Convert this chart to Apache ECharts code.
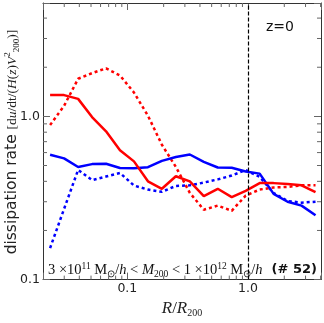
<!DOCTYPE html>
<html>
<head>
<meta charset="utf-8">
<script src="https://cdn.jsdelivr.net/npm/echarts@6/dist/echarts.min.js"></script>
<style>
  html, body { margin: 0; padding: 0; background: #fff; }
  #chart { width: 324px; height: 323px; }
</style>
</head>
<body>
<div id="chart"></div>
<script>
// R/R200 bins
const radius = [0.0229, 0.0299, 0.0391, 0.0510, 0.0666, 0.0869, 0.1135, 0.1482, 0.1934, 0.2525,
                0.3296, 0.4303, 0.5617, 0.7333, 0.9573, 1.250, 1.632, 2.130, 2.780, 3.630]
const redSolid   = [1.35, 1.35, 1.28, 0.99, 0.81, 0.62, 0.53, 0.40, 0.36, 0.43,
                    0.40, 0.325, 0.36, 0.32, 0.35, 0.39, 0.39, 0.385, 0.378, 0.343]
const redDotted  = [0.885, 1.16, 1.70, 1.84, 1.97, 1.78, 1.40, 1.01, 0.67, 0.49,
                    0.34, 0.268, 0.284, 0.264, 0.327, 0.356, 0.367, 0.37, 0.378, 0.378]
const blueSolid  = [0.582, 0.553, 0.49, 0.51, 0.513, 0.483, 0.481, 0.488, 0.534, 0.564,
                    0.584, 0.527, 0.486, 0.485, 0.46, 0.446, 0.335, 0.30, 0.284, 0.248]
const blueDotted = [0.156, 0.271, 0.47, 0.407, 0.428, 0.45, 0.377, 0.356, 0.345, 0.375,
                    0.378, 0.393, 0.411, 0.434, 0.469, 0.426, 0.339, 0.303, 0.296, 0.30]
const xMinor = [0.03, 0.04, 0.05, 0.06, 0.07, 0.08, 0.09, 0.2, 0.3, 0.4, 0.5, 0.6, 0.7, 0.8, 0.9, 2, 3, 4]
const yMinor = [0.2, 0.3, 0.4, 0.5, 0.6, 0.7, 0.8, 0.9, 2, 3, 4]

const xMin = 0.02, xMax = 4.03
const yMin = 0.1, yMax = 4.95

let myChart = echarts.init(document.getElementById('chart'))

function pairs(ys){
	return radius.map((r, i) => [r, ys[i]])
}

function decadeLabel(v){
	let l = Math.log10(v)
	if (Math.abs(l - Math.round(l)) > 1e-6) return ''
	return v < 1 ? String(+v.toFixed(3)) : v.toFixed(1)
}

let tickColor = '#666'

function minorTicksX(params, api){
	let p = api.coord([api.value(0), 1])
	let cs = params.coordSys
	let b = cs.y + cs.height
	return {
		type: 'group',
		children: [
			{type: 'line', shape: {x1: p[0], y1: b, x2: p[0], y2: b - 4}, style: {stroke: tickColor, lineWidth: 1}},
			{type: 'line', shape: {x1: p[0], y1: cs.y, x2: p[0], y2: cs.y + 4}, style: {stroke: tickColor, lineWidth: 1}}
		]
	}
}

function minorTicksY(params, api){
	let p = api.coord([1, api.value(1)])
	let cs = params.coordSys
	let r = cs.x + cs.width
	return {
		type: 'group',
		children: [
			{type: 'line', shape: {x1: cs.x, y1: p[1], x2: cs.x + 4, y2: p[1]}, style: {stroke: tickColor, lineWidth: 1}},
			{type: 'line', shape: {x1: r, y1: p[1], x2: r - 4, y2: p[1]}, style: {stroke: tickColor, lineWidth: 1}}
		]
	}
}

let frameLine = {show: true, onZero: false, lineStyle: {color: '#333', width: 1}}
let majorTick = {show: true, inside: true, length: 7, lineStyle: {color: tickColor, width: 1}}

let serif = 'Liberation Serif'
let sans = 'DejaVu Sans'

let option = {
	animation: false,
	backgroundColor: '#fff',
	grid: {left: 43, right: 3, top: 3, bottom: 32, containLabel: false},
	xAxis: [
		{
			type: 'log', min: xMin, max: xMax, logBase: 10,
			axisLine: frameLine, axisTick: majorTick, splitLine: {show: false},
			axisLabel: {formatter: decadeLabel, fontFamily: sans, fontSize: 12.5, color: '#222', margin: 3},
			name: '{i|R}{n|/}{i|R}{s|200}',
			nameLocation: 'middle', nameGap: 12,
			nameTextStyle: {
				verticalAlign: 'top',
				rich: {
					i: {fontFamily: serif, fontStyle: 'italic', fontSize: 17, color: '#222', lineHeight: 18},
					n: {fontFamily: serif, fontSize: 17, color: '#222', lineHeight: 18},
					s: {fontFamily: serif, fontSize: 10, color: '#222', verticalAlign: 'bottom', lineHeight: 11}
				}
			}
		},
		{
			type: 'log', min: xMin, max: xMax, position: 'top',
			axisLine: frameLine, axisTick: majorTick, axisLabel: {show: false}, splitLine: {show: false}
		}
	],
	yAxis: [
		{
			type: 'log', min: yMin, max: yMax,
			axisLine: frameLine, axisTick: majorTick, splitLine: {show: false},
			axisLabel: {formatter: decadeLabel, fontFamily: sans, fontSize: 12.5, color: '#222', margin: 3}
		},
		{
			type: 'log', min: yMin, max: yMax, position: 'right',
			axisLine: frameLine, axisTick: majorTick, axisLabel: {show: false}, splitLine: {show: false}
		}
	],
	graphic: [
		{
			type: 'text', x: 12, y: 142, rotation: Math.PI / 2,
			style: {
				text: '{a|dissipation rate }{m|[d}{i|u}{m|/dt/(}{i|H}{m|(}{i|z}{m|)}{i|V}{p|2}{s|200}{m|)]}',
				align: 'center', verticalAlign: 'middle',
				rich: {
					a: {fontFamily: sans, fontSize: 15.5, fill: '#222', lineHeight: 18},
					m: {fontFamily: serif, fontSize: 13.5, fill: '#222', lineHeight: 18},
					i: {fontFamily: serif, fontStyle: 'italic', fontSize: 13.5, fill: '#222', lineHeight: 18},
					p: {fontFamily: serif, fontSize: 9, fill: '#222', verticalAlign: 'top', lineHeight: 10},
					s: {fontFamily: serif, fontSize: 9, fill: '#222', verticalAlign: 'bottom', lineHeight: 10}
				}
			}
		},
		{
			type: 'text', x: 266, y: 27,
			style: {text: 'z=0', fontFamily: sans, fontSize: 14, fill: '#111', verticalAlign: 'middle'}
		},
		{
			type: 'text', x: 48, y: 270,
			style: {
				text: '{m|3 ×10}{p|11}{m| M}{s|⊙}{m|/}{i|h}{m| < }{i|M}{s|200}{m| < 1 ×10}{p|12}{m| M}{s|⊙}{m|/}{i|h}{b|  (# 52)}',
				verticalAlign: 'middle',
				rich: {
					m: {fontFamily: serif, fontSize: 14.5, fill: '#111', lineHeight: 18},
					i: {fontFamily: serif, fontStyle: 'italic', fontSize: 14.5, fill: '#111', lineHeight: 18},
					p: {fontFamily: serif, fontSize: 9.5, fill: '#111', verticalAlign: 'top', lineHeight: 10},
					s: {fontFamily: serif, fontSize: 9.5, fill: '#111', verticalAlign: 'bottom', lineHeight: 10},
					b: {fontFamily: sans, fontWeight: 'bold', fontSize: 13, fill: '#111', lineHeight: 18}
				}
			}
		}
	],
	series: [
		{
			name: 'blue dotted', type: 'line', data: pairs(blueDotted),
			showSymbol: false, lineStyle: {color: '#0000ff', width: 2.5, type: [3, 3]}
		},
		{
			name: 'red dotted', type: 'line', data: pairs(redDotted),
			showSymbol: false, lineStyle: {color: '#ff0000', width: 2.5, type: [3, 3]}
		},
		{
			name: 'blue solid', type: 'line', data: pairs(blueSolid),
			showSymbol: false, lineStyle: {color: '#0000ff', width: 2.5}
		},
		{
			name: 'red solid', type: 'line', data: pairs(redSolid),
			showSymbol: false, lineStyle: {color: '#ff0000', width: 2.5},
			markLine: {
				silent: true, symbol: 'none', label: {show: false},
				lineStyle: {color: '#000', width: 1.2, type: [4, 2]},
				data: [{xAxis: 1}]
			}
		},
		{
			type: 'custom', renderItem: minorTicksX, silent: true,
			data: xMinor.map(v => [v, 1]), z: 1
		},
		{
			type: 'custom', renderItem: minorTicksY, silent: true,
			data: yMinor.map(v => [1, v]), z: 1
		}
	]
}
myChart.setOption(option)
</script>
</body>
</html>
